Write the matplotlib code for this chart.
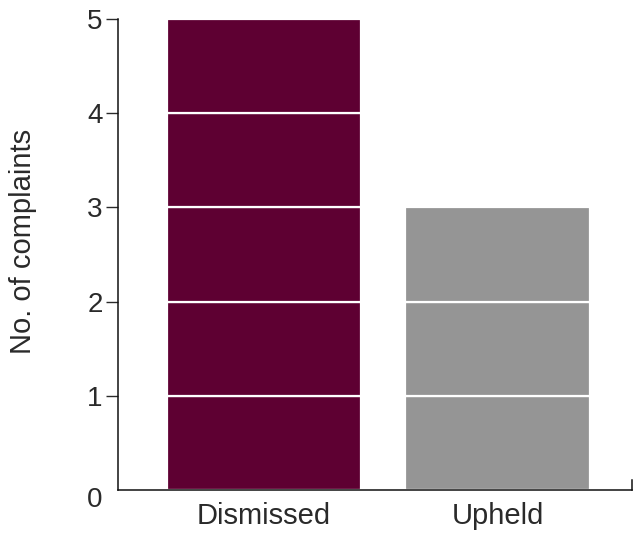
import matplotlib.pyplot as plt
import matplotlib.transforms as mtransforms
from matplotlib.lines import Line2D

categories = ["Dismissed", "Upheld"]
complaints = [5, 3]
bar_colors = ["#5e0032", "#959595"]
bar_widths = [0.83, 0.79]
y_ticks = [0, 1, 2, 3, 4, 5]

plt.rcParams["font.family"] = ["Liberation Sans", "DejaVu Sans"]

fig = plt.figure(figsize=(6.33, 5.33), dpi=100)
ax = fig.add_axes([0.1864, 0.0807, 0.812, 0.8837])

# each complaint is a unit block, stacked with white separators
for i, (n, c, w) in enumerate(zip(complaints, bar_colors, bar_widths)):
    ax.bar([i] * n, [1] * n, bottom=list(range(n)), width=w, color=c,
           edgecolor="white", linewidth=1.6)

ax.set_xlim(-0.625, 1.576)
ax.set_ylim(0, 5)
ax.set_yticks(y_ticks)
ax.set_xticks(range(len(categories)))
ax.set_xticklabels(categories)
ax.tick_params(axis="x", length=0, labelsize=21, pad=9, colors="#2a2a2a")
ax.tick_params(axis="y", length=9, width=1, labelsize=20, pad=2, colors="#2a2a2a")
ax.set_ylabel("No. of complaints", fontsize=21, color="#2a2a2a")
ax.yaxis.set_label_coords(-0.157, 0.527)

ax.spines["top"].set_visible(False)
ax.spines["right"].set_visible(False)
for s in ["left", "bottom"]:
    ax.spines[s].set_linewidth(1.1)
    ax.spines[s].set_color("#111111")

# zero label sits a bit below the axis, without a tick mark
ax.yaxis.get_major_ticks()[0].tick1line.set_visible(False)
lbl0 = ax.get_yticklabels()[0]
lbl0.set_transform(lbl0.get_transform() + mtransforms.ScaledTranslation(0, -7 / 100, fig.dpi_scale_trans))

# small end mark on the x axis
end_mark = Line2D([1, 1], [0, 0.022], transform=ax.transAxes, color="#111111",
                  linewidth=1.1, clip_on=False)
ax.add_line(end_mark)

fig.savefig("out.png", dpi=100)
